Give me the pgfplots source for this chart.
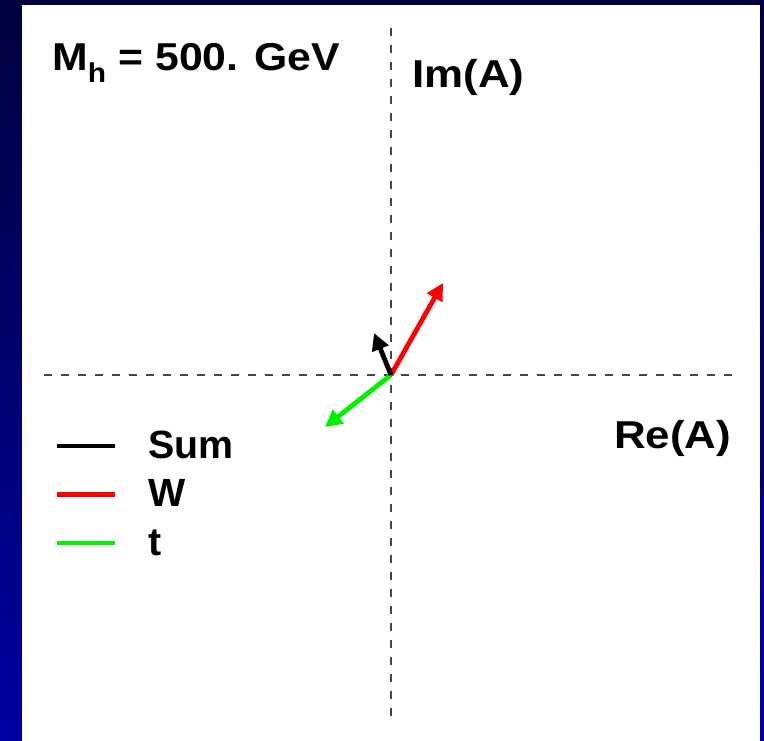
\documentclass[border=0pt]{standalone}
\usepackage{fontspec}
\setmainfont{Liberation Sans}
\newfontfamily\widefont{Liberation Sans}[FakeStretch=1.13]
\newfontfamily\titlefont{Liberation Sans}[FakeStretch=1.10]
\usepackage{pgfplots}
\pgfplotsset{compat=1.18}
\usetikzlibrary{arrows.meta}
\definecolor{bgtop}{RGB}{0,0,60}
\definecolor{bgbot}{RGB}{0,0,162}
\definecolor{dashgray}{RGB}{70,70,70}
\definecolor{arrgreen}{RGB}{0,240,0}
\definecolor{arrred}{RGB}{255,0,0}
\begin{document}
\begin{tikzpicture}
\begin{axis}[
  width=764bp, height=741bp, scale only axis,
  xmin=-391, xmax=373, ymin=-366, ymax=375,
  axis lines=none, ticks=none, clip=false,
  legend cell align=left,
  legend image code/.code={\draw[#1] (0bp,-2bp) -- (58bp,-2bp);},
  legend style={at={(axis cs:-336,-55)}, anchor=north west, draw=none, fill=none,
    font=\fontsize{39.5}{44}\selectfont\bfseries,
    inner sep=0pt, column sep=31bp, row sep=20.5bp,
    nodes={inner sep=0pt, text height=28bp, text depth=0pt}},
]
% background
\shade[top color=bgtop, bottom color=bgbot] (rel axis cs:0,0) rectangle (rel axis cs:1,1);
\fill[white] (axis cs:-369,-366) rectangle (axis cs:369,370);
% dashed axes
\addplot[forget plot, dashgray, line width=1.2bp, dash pattern=on 8bp off 9bp] coordinates {(-347,0) (347,0)};
\addplot[forget plot, dashgray, line width=1.2bp, dash pattern=on 8bp off 9bp] coordinates {(0,347) (0,-348)};
% arrows
\addplot[forget plot, arrred, line width=4.8bp, -{Triangle[length=17bp,width=17bp]}] coordinates {(0,0) (52,92)};
\addplot[forget plot, arrgreen, line width=4.8bp, -{Triangle[length=17bp,width=17bp]}] coordinates {(0,0) (-66,-52)};
\addplot[forget plot, black, line width=4.8bp, -{Triangle[length=17bp,width=17bp]}] coordinates {(0,0) (-17,42)};
% legend
\addlegendimage{black, line width=4.5bp}\addlegendentry{Sum}
\addlegendimage{arrred, line width=4.5bp}\addlegendentry{W}
\addlegendimage{arrgreen, line width=4.5bp}\addlegendentry{t}
% labels
\node[anchor=base west, inner sep=0pt, font=\titlefont\fontsize{39}{44}\selectfont\bfseries] at (axis cs:-339,304) {M\textsubscript{h} = 500. GeV};
\node[anchor=base west, inner sep=0pt, font=\widefont\fontsize{39}{44}\selectfont\bfseries] at (axis cs:21,287) {Im(A)};
\node[anchor=base west, inner sep=0pt, font=\widefont\fontsize{39}{44}\selectfont\bfseries] at (axis cs:223,-74) {Re(A)};
\end{axis}
\end{tikzpicture}
\end{document}
